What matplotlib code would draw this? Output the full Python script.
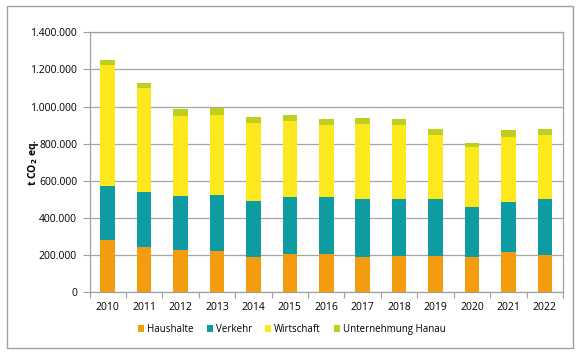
import matplotlib
matplotlib.use("Agg")
import matplotlib.pyplot as plt
from matplotlib.patches import Rectangle
from matplotlib.ticker import FuncFormatter, MultipleLocator, FixedLocator
import numpy as np

years = ["2010", "2011", "2012", "2013", "2014", "2015", "2016", "2017",
         "2018", "2019", "2020", "2021", "2022"]
haushalte = [280000, 244000, 226000, 224000, 190000, 208000, 208000, 192000,
             197000, 197000, 190000, 215000, 202000]
verkehr = [292000, 296000, 294000, 298000, 302000, 305000, 307000, 309000,
           305000, 305000, 271000, 270000, 300000]
wirtschaft = [650000, 562000, 431000, 433000, 418000, 411000, 388000, 404000,
              401000, 347000, 320000, 353000, 347000]
unternehmung = [27000, 23000, 34000, 36000, 34000, 32000, 32000, 32000,
                30000, 32000, 23000, 34000, 32000]
series_names = ["Haushalte", "Verkehr", "Wirtschaft", "Unternehmung Hanau"]
colors = ["#F39C0F", "#0E9BA2", "#FCE81C", "#BDD01E"]

plt.rcParams['font.family'] = ['Open Sans', 'DejaVu Sans']

fig = plt.figure(figsize=(5.81, 3.54), dpi=100)
ax = fig.add_axes([89.5/581, 1-292.3/354, (563-89.5)/581, (292.3-32.3)/354])

x = np.arange(len(years))
bottom = np.zeros(len(years))
handles = []
for name, vals, c in zip(series_names, [haushalte, verkehr, wirtschaft, unternehmung], colors):
    b = ax.bar(x, vals, width=0.4, bottom=bottom, color=c, label=name, zorder=3)
    handles.append(b)
    bottom += np.array(vals)

ax.set_xlim(-0.5, len(years)-0.5)
ax.set_ylim(0, 1400000)
ax.yaxis.set_major_locator(MultipleLocator(200000))
ax.yaxis.set_major_formatter(FuncFormatter(lambda v, p: f"{int(v):,}".replace(",", ".")))
ax.set_xticks(x)
ax.set_xticklabels(years)
ax.xaxis.set_minor_locator(FixedLocator(np.arange(-0.5, len(years), 1.0)))
ax.tick_params(axis='x', which='major', length=0, labelsize=7.5, pad=7)
ax.tick_params(axis='x', which='minor', length=4, color='#A0A0A0', width=0.8)
ax.tick_params(axis='y', which='major', length=5, color='#A0A0A0', width=0.8, labelsize=7.5, pad=4)
ax.grid(axis='y', color='#A6A6A6', linewidth=0.9, zorder=0)
for s in ax.spines.values():
    s.set_color('#A0A0A0')
    s.set_linewidth(0.9)

ax.set_ylabel(r't CO$_\mathbf{2}$ eq.', fontsize=7.5, fontweight='bold')
ax.yaxis.set_label_coords((41-89.5)/473.5, 0.5)

leg = fig.legend(handles=handles, labels=series_names, loc='center',
                 bbox_to_anchor=(292/581, 1-329.5/354), ncol=4, frameon=False,
                 fontsize=7, handlelength=0.6, handleheight=0.6, handletextpad=0.3,
                 columnspacing=1.4)

fig.add_artist(Rectangle((6.5/581, 1-347.7/354), (572.7-6.5)/581, (347.7-5.7)/354,
                         transform=fig.transFigure, fill=False, edgecolor='#A0A0A0',
                         linewidth=1.0))

fig.savefig("out.png", dpi=100)
